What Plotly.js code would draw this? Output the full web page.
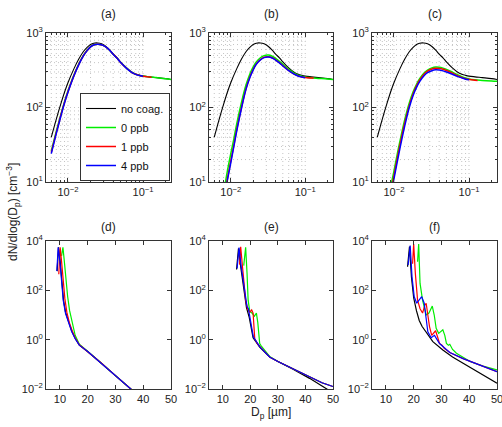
<!DOCTYPE html>
<html><head><meta charset="utf-8">
<script src="https://cdn.plot.ly/plotly-3.0.1.min.js"></script>
<style>html,body{margin:0;padding:0;background:#fff}#chart{width:502px;height:427px}</style>
</head><body><div id="chart"></div>
<script>
// ---------- DATA ----------
const legendNames = ['no coag.', '0 ppb', '1 ppb', '4 ppb'];
const panelLabels = ['(a)', '(b)', '(c)', '(d)', '(e)', '(f)'];
const topTickVals = [0.01, 0.1];
const topTickText = ['10<sup>−2</sup>', '10<sup>−1</sup>'];
const topYTickVals = [10, 100, 1000];
const topYTickText = ['10<sup>1</sup>', '10<sup>2</sup>', '10<sup>3</sup>'];
const botXTickVals = [10, 20, 30, 40, 50];
const botYTickVals = [0.01, 1, 100, 10000];
const botYTickText = ['10<sup>−2</sup>', '10<sup>0</sup>', '10<sup>2</sup>', '10<sup>4</sup>'];

// top row: size distributions (Dp in µm, dN/dlogDp in cm^-3)
const topBlackX = [0.006,0.007,0.008,0.009,0.01,0.012,0.014,0.016,0.018,0.02,0.022,0.025,0.028,0.032,0.036,0.04,0.045,0.05,0.06,0.07,0.08,0.09,0.1,0.12,0.15,0.2,0.236];
const topBlackY = [40,70,110,160,215,330,450,560,640,700,730,735,715,660,590,520,465,410,340,300,280,270,264,258,252,244,238];

const aGreenX = topBlackX;
const aGreenY = [26,48,79,120,166,272,387,496,585,654,694,707,697,652,587,522,462,407,340,300,280,270,264,258,252,244,238];
const aRedX = [0.006,0.007,0.008,0.009,0.01,0.012,0.014,0.016,0.018,0.02,0.022,0.025,0.028,0.032,0.036,0.04,0.045,0.05,0.06,0.07,0.08,0.09,0.1,0.12,0.13];
const aRedY = [25,46,77,117,163,268,383,492,582,652,692,706,696,651,586,521,461,406,339,299,279,269,263,257,255];
const aBlueX = [0.006,0.007,0.008,0.009,0.01,0.012,0.014,0.016,0.018,0.02,0.022,0.025,0.028,0.032,0.036,0.04,0.045,0.05,0.06,0.07,0.08,0.09,0.1];
const aBlueY = [24,45,75,115,160,265,380,490,580,650,690,705,695,650,585,520,460,405,338,298,278,268,262];

const bGreenX = [0.008,0.009,0.01,0.011,0.012,0.014,0.016,0.018,0.02,0.022,0.025,0.028,0.032,0.036,0.04,0.045,0.05,0.06,0.07,0.08,0.09,0.1,0.12,0.15,0.2,0.236];
const bGreenY = [7,14,24,38,60,120,200,280,350,410,465,497,505,488,458,418,380,325,292,272,262,256,250,246,241,237];
const bRedX = [0.0085,0.009,0.01,0.011,0.012,0.014,0.016,0.018,0.02,0.022,0.025,0.028,0.032,0.036,0.04,0.045,0.05,0.06,0.07,0.08,0.09,0.1,0.12,0.13];
const bRedY = [8,11,19,31,50,102,178,255,325,385,440,472,480,465,437,400,365,314,283,266,257,252,249,248];
const bBlueX = [0.0085,0.009,0.01,0.011,0.012,0.014,0.016,0.018,0.02,0.022,0.025,0.028,0.032,0.036,0.04,0.045,0.05,0.06,0.07,0.08,0.09,0.1];
const bBlueY = [7.5,10.5,18,30,48,100,175,250,320,380,435,467,476,461,433,397,362,312,282,265,256,251];

const cGreenX = [0.009,0.01,0.011,0.012,0.014,0.016,0.018,0.02,0.022,0.025,0.028,0.032,0.036,0.04,0.045,0.05,0.06,0.07,0.08,0.09,0.1,0.12,0.15,0.2,0.236];
const cGreenY = [8.5,14,23,35,70,115,162,205,243,288,318,340,350,348,338,325,298,276,260,249,242,235,231,227,225];
const cRedX = [0.0093,0.01,0.011,0.012,0.014,0.016,0.018,0.02,0.022,0.025,0.028,0.032,0.036,0.04,0.045,0.05,0.06,0.07,0.08,0.09,0.1,0.12,0.13];
const cRedY = [8.5,12,20,31,63,106,152,195,232,277,307,328,337,335,326,314,289,268,253,243,237,232,231];
const cBlueX = [0.0095,0.01,0.011,0.012,0.014,0.016,0.018,0.02,0.022,0.025,0.028,0.032,0.036,0.04,0.045,0.05,0.06,0.07,0.08,0.09,0.1];
const cBlueY = [8.5,11,18,28,58,100,145,186,222,265,293,312,320,318,310,300,280,262,250,240,235];

// bottom row: Dp in µm
const dBlackX = [9.0,9.5,10.1,10.7,11.3,12.1,13.1,14.3,15.6,17,20,25,30,35,37];
const dBlackY = [600,5500,1500,250,40,12,5,2.2,1.1,0.6,0.33,0.11,0.035,0.0115,0.0072];
const dGreenX = [10.6,11.1,11.6,12.2,12.8,13.5,14.5,15.5,17,20,25,30,35,37];
const dGreenY = [2500,5500,1500,260,55,15,4,1.5,0.65,0.34,0.11,0.035,0.0115,0.0072];
const dRedX = [9.6,10.1,10.6,11.2,11.8,12.5,13.5,14.5,15.5,17,20,25,30,35,37];
const dRedY = [450,5500,1500,220,45,13,4.5,2.2,1.2,0.62,0.33,0.11,0.035,0.0115,0.0072];
const dBlueX = [8.9,9.4,10.0,10.6,11.2,12.0,13.0,14.2,15.5,17,20,25,30,35,37];
const dBlueY = [600,5500,1500,250,40,12,5,2.2,1.1,0.6,0.33,0.11,0.035,0.0115,0.0072];

const eBlackX = [15.0,15.7,16.5,17.8,18.6,19.6,20.5,21.0,23.4,27,30,35.5,41.5,44,47,50];
const eBlackY = [700,5000,900,70,20,8,2.1,1.2,0.5,0.2,0.13,0.064,0.027,0.018,0.0105,0.007];
const eGreenX = [17.6,18.3,18.8,19.2,19.8,20.6,21.5,22.2,22.7,23.4,24,25,27,30,35.5,41.5,46,50];
const eGreenY = [1000,5500,500,40,14,12,9,12,5,0.7,0.55,0.4,0.21,0.13,0.065,0.03,0.018,0.0126];
const eRedX = [16.1,16.5,17.2,18.3,19.0,19.8,20.5,21.0,21.6,22.5,24,27,30,35.5,41.5,46,50];
const eRedY = [1100,5800,800,40,18,13,16,12,1.1,0.7,0.45,0.2,0.13,0.065,0.03,0.018,0.0126];
const eBlueX = [15.2,15.9,16.7,18.0,18.8,19.3,19.8,20.7,21.1,23.4,27,30,35.5,41.5,46,50];
const eBlueY = [770,5400,900,75,22,18,8.5,2.1,1.3,0.52,0.2,0.13,0.065,0.03,0.018,0.0126];

const fBlackX = [17.8,18.5,19.2,20,21,22,23,24.5,26.9,30.5,34,37.8,43.9,50];
const fBlackY = [900,6000,350,50,15,6,3.5,2.1,0.83,0.38,0.2,0.11,0.044,0.017];
const fGreenX = [21.4,21.8,22.3,23.2,24.5,25.5,26.7,27.4,28.1,29,30.5,31.2,31.8,32.5,33,34,35.4,37,40.3,45,50];
const fGreenY = [1450,7500,190,40,10,12,23,10,2.9,1.8,2.5,1.5,0.7,0.6,0.65,0.4,0.28,0.22,0.13,0.085,0.059];
const fRedX = [19.6,20.0,20.6,21.4,22.3,23.2,24.0,24.5,25.1,25.7,26.5,27.9,28.7,29.3,30.2,31,33,37.8,43.9,50];
const fRedY = [1200,7500,500,40,18,12,25,30,10,3.4,1.5,2.3,1.2,0.7,0.6,0.45,0.3,0.17,0.093,0.05];
const fBlueX = [18.0,18.75,19.4,20.2,21.1,22.0,22.9,23.8,25.1,26.3,27.5,29.3,33,37.8,43.9,50];
const fBlueY = [1070,6500,355,55,30,40,55,30,2.1,1.2,1.5,0.7,0.3,0.17,0.093,0.05];

const gridXVals = [0.006,0.007,0.008,0.009,0.01,0.02,0.03,0.04,0.05,0.06,0.07,0.08,0.09,0.1];
const gridYVals = [20,30,40,50,60,70,80,90,100,200,300,400,500,600,700,800,900];
const minorXVals = [0.006,0.007,0.008,0.009,0.02,0.03,0.04,0.05,0.06,0.07,0.08,0.09,0.2];
const minorYVals = [20,30,40,50,60,70,80,90,200,300,400,500,600,700,800,900];

// ---------- STYLE / LAYOUT ----------
const W = 502, H = 427;
const colors = ['#000000', '#00ee00', '#ff0000', '#0000ff'];
const px = v => v / W, py = v => 1 - v / H;
const colX = [[46,171],[209,333],[372,497]];
const rowY = [[33,182],[241,389]];
const font = {family: 'Liberation Sans, Arial, sans-serif', size: 11, color: '#222'};
const topXR = [Math.log10(0.0051), Math.log10(0.236)];
const topYR = [1, 3];
const fx = v => (Math.log10(v) - topXR[0]) / (topXR[1] - topXR[0]);
const fy = v => (Math.log10(v) - topYR[0]) / (topYR[1] - topYR[0]);

const traces = [];
function add(x, y, ci, ax, legend, w, shape) {
  traces.push({x: x, y: y, type: 'scatter', mode: 'lines',
    line: {color: colors[ci], width: w, shape: shape},
    xaxis: 'x' + (ax === 1 ? '' : ax), yaxis: 'y' + (ax === 1 ? '' : ax),
    name: legendNames[ci], showlegend: legend, hoverinfo: 'skip'});
}
const topSets = [
  [[topBlackX, topBlackY],[aGreenX, aGreenY],[aRedX, aRedY],[aBlueX, aBlueY]],
  [[topBlackX, topBlackY],[bGreenX, bGreenY],[bRedX, bRedY],[bBlueX, bBlueY]],
  [[topBlackX, topBlackY],[cGreenX, cGreenY],[cRedX, cRedY],[cBlueX, cBlueY]]
];
const botSets = [
  [[dBlackX, dBlackY],[dGreenX, dGreenY],[dRedX, dRedY],[dBlueX, dBlueY]],
  [[eBlackX, eBlackY],[eGreenX, eGreenY],[eRedX, eRedY],[eBlueX, eBlueY]],
  [[fBlackX, fBlackY],[fGreenX, fGreenY],[fRedX, fRedY],[fBlueX, fBlueY]]
];
topSets.forEach((set, p) => set.forEach((s, ci) => add(s[0], s[1], ci, p + 1, p === 0, ci === 0 ? 1.1 : 1.5, 'spline')));
botSets.forEach((set, p) => set.forEach((s, ci) => add(s[0], s[1], ci, p + 4, false, 1.2, 'linear')));

const layout = {
  width: W, height: H, margin: {l: 0, r: 0, t: 0, b: 0},
  paper_bgcolor: '#fff', plot_bgcolor: '#fff', font: font,
  showlegend: true,
  legend: {x: px(170), xanchor: 'right', y: py(181), yanchor: 'bottom',
    bgcolor: '#fff', bordercolor: '#333', borderwidth: 1, font: {size: 11, color: '#111'},
    itemwidth: 30, tracegroupgap: 0},
  annotations: [], shapes: []
};
const axLine = {showline: true, linecolor: '#333', linewidth: 1, mirror: 'ticks',
  ticks: 'inside', ticklen: 4, tickcolor: '#333', zeroline: false, showgrid: false,
  tickfont: font, fixedrange: true, ticklabeloverflow: 'allow'};
const gridLine = {color: '#c4c4c4', width: 1, dash: '1px,3px'};
for (let i = 0; i < 6; i++) {
  const r = i < 3 ? 0 : 1, c = i % 3;
  const xk = 'xaxis' + (i ? i + 1 : ''), yk = 'yaxis' + (i ? i + 1 : '');
  const xa = 'x' + (i ? i + 1 : ''), ya = 'y' + (i ? i + 1 : '');
  const xd = [px(colX[c][0]), px(colX[c][1])];
  const yd = [py(rowY[r][1]), py(rowY[r][0])];
  if (r === 0) {
    layout[xk] = Object.assign({}, axLine, {domain: xd, anchor: ya, type: 'log',
      range: topXR, tickmode: 'array', tickvals: topTickVals, ticktext: topTickText,
      minor: {tickmode: 'array', tickvals: minorXVals, ticks: 'inside', ticklen: 2, tickcolor: '#333', showgrid: false}});
    layout[yk] = Object.assign({}, axLine, {domain: yd, anchor: xa, type: 'log',
      range: topYR, tickmode: 'array', tickvals: topYTickVals, ticktext: topYTickText,
      minor: {tickmode: 'array', tickvals: minorYVals, ticks: 'inside', ticklen: 2, tickcolor: '#333', showgrid: false}});
    gridXVals.forEach(v => layout.shapes.push({type: 'line', xref: xa + ' domain', yref: ya + ' domain', layer: 'below',
      x0: fx(v), x1: fx(v), y0: 0, y1: 1, line: gridLine}));
    gridYVals.forEach(v => layout.shapes.push({type: 'line', xref: xa + ' domain', yref: ya + ' domain', layer: 'below',
      x0: 0, x1: fx(0.1), y0: fy(v), y1: fy(v), line: gridLine}));
  } else {
    layout[xk] = Object.assign({}, axLine, {domain: xd, anchor: ya, type: 'linear',
      range: [5, 50], tickmode: 'array', tickvals: botXTickVals});
    layout[yk] = Object.assign({}, axLine, {domain: yd, anchor: xa, type: 'log',
      range: [-2, 4], tickmode: 'array', tickvals: botYTickVals, ticktext: botYTickText});
  }
  layout.annotations.push({text: panelLabels[i], xref: 'paper', yref: 'paper',
    x: (xd[0] + xd[1]) / 2, y: py(r === 0 ? 14 : 227), xanchor: 'center', yanchor: 'middle',
    showarrow: false, font: {family: font.family, size: 12, color: '#222'}});
}
layout.annotations.push({text: 'dN/dlog(D<sub>p</sub>) [cm<sup>−3</sup>]', xref: 'paper', yref: 'paper',
  x: px(13), y: py(212), textangle: -90, xanchor: 'center', yanchor: 'middle', showarrow: false,
  font: {family: font.family, size: 12, color: '#222'}});
layout.annotations.push({text: 'D<sub>p</sub> [µm]', xref: 'paper', yref: 'paper',
  x: px(271), y: py(413), xanchor: 'center', yanchor: 'middle', showarrow: false,
  font: {family: font.family, size: 12, color: '#222'}});

Plotly.newPlot('chart', traces, layout, {staticPlot: true, displayModeBar: false});
</script></body></html>
